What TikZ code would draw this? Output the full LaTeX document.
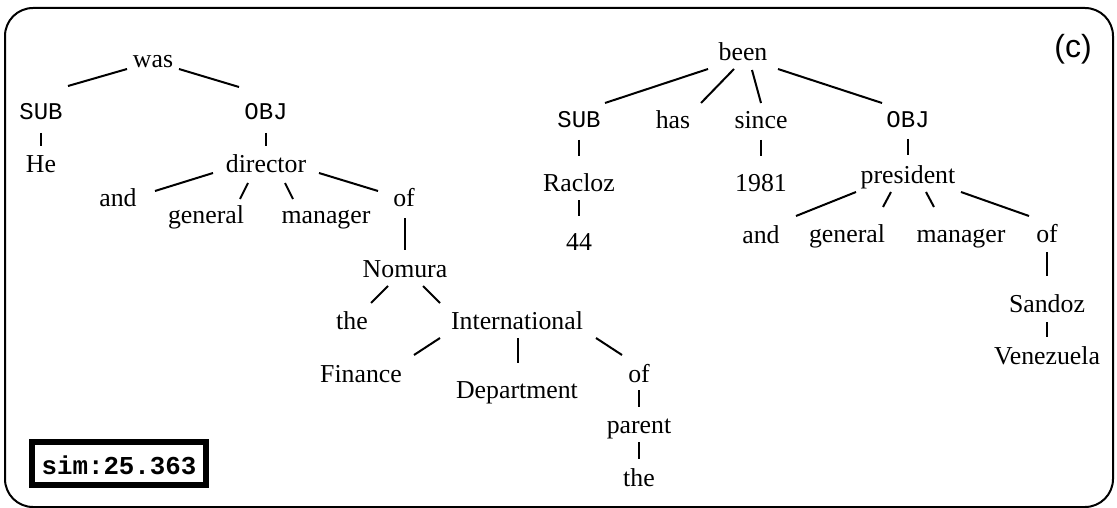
\documentclass[tikz,border=0pt]{standalone}
\usepackage{fontspec}
\setmainfont{Liberation Serif}
\setmonofont{Liberation Mono}
\newfontfamily\panelfont{Liberation Sans}
\newcommand\wordsize{\fontsize{25.8}{30}\selectfont}
\newcommand\tagsize{\fontsize{24}{28}\selectfont}
\newcommand\treelink[4]{\draw[link] ([shift={(#2)}]#1.base) -- ([shift={(#4)}]#3.base);}
\tikzset{
  word/.style={anchor=base, inner sep=0pt, font=\wordsize},
  tag/.style={anchor=base, inner sep=0pt, font=\tagsize\ttfamily},
  link/.style={line width=2pt},
  frame/.style={line width=2pt, rounded corners=28pt},
  simbox/.style={draw, line width=6pt, inner sep=0pt, minimum width=174pt,
    minimum height=43pt, text height=21pt, text depth=0pt,
    font=\wordsize\ttfamily\bfseries},
}
\begin{document}
\begin{tikzpicture}[x=1pt, y=-1pt]
\useasboundingbox (0,0) rectangle (1117,508);
\draw[frame] (5,8) rectangle (1113,507);

% left tree
\node[word] (was)   at (153,68)  {was};
\node[tag]  (subL)  at (41,120)  {SUB};
\node[tag]  (objL)  at (266,120) {OBJ};
\node[word] (he)    at (41,173)  {He};
\node[word] (dir)   at (266,173) {director};
\node[word] (andL)  at (118,207) {and};
\node[word] (genL)  at (206,223) {general};
\node[word] (manL)  at (326,223) {manager};
\node[word] (ofL)   at (404,207) {of};
\node[word] (nom)   at (405,277) {Nomura};
\node[word] (theA)  at (352,329) {the};
\node[word] (intl)  at (517,329) {International};
\node[word] (fin)   at (361,382) {Finance};
\node[word] (dept)  at (517,398) {Department};
\node[word] (ofB)   at (639,382) {of};
\node[word] (par)   at (639,433) {parent};
\node[word] (theB)  at (639,486) {the};

\treelink{was}{-26,1}{subL}{27,-34}
\treelink{was}{26,1}{objL}{-27,-33}
\treelink{subL}{0,13}{he}{0,-27}
\treelink{objL}{0,13}{dir}{0,-27}
\treelink{dir}{-53,0}{andL}{37,-16}
\treelink{dir}{-18,10}{genL}{34,-24}
\treelink{dir}{19,10}{manL}{-33,-24}
\treelink{dir}{53,0}{ofL}{-26,-16}
\treelink{ofL}{1,11}{nom}{0,-27}
\treelink{nom}{-17,9}{theA}{19,-26}
\treelink{nom}{18,9}{intl}{-77,-26}
\treelink{intl}{-77,9}{fin}{53,-27}
\treelink{intl}{1,9}{dept}{1,-35}
\treelink{intl}{79,9}{ofB}{-17,-27}
\treelink{ofB}{0,8}{par}{0,-26}
\treelink{par}{0,9}{theB}{0,-27}

% right tree
\node[word] (been)  at (743,61)   {been};
\node[tag]  (subR)  at (579,128)  {SUB};
\node[word] (has)   at (673,129)  {has};
\node[word] (since) at (761,129)  {since};
\node[tag]  (objR)  at (908,128)  {OBJ};
\node[word] (rac)   at (579,192)  {Racloz};
\node[word] (yr)    at (761,192)  {1981};
\node[word] (pres)  at (908,183)  {president};
\node[word] (age)   at (579,250)  {44};
\node[word] (andR)  at (761,243)  {and};
\node[word] (genR)  at (847,242)  {general};
\node[word] (manR)  at (961,242)  {manager};
\node[word] (ofR)   at (1047,242) {of};
\node[word] (san)   at (1047,312) {Sandoz};
\node[word] (ven)   at (1047,364) {Venezuela};

\treelink{been}{-35,8}{subR}{26,-25}
\treelink{been}{-9,8}{has}{28,-26}
\treelink{been}{9,9}{since}{0,-26}
\treelink{been}{35,8}{objR}{-26,-25}
\treelink{subR}{0,12}{rac}{0,-36}
\treelink{rac}{0,8}{age}{0,-34}
\treelink{since}{0,11}{yr}{0,-36}
\treelink{objR}{0,11}{pres}{0,-28}
\treelink{pres}{-52,9}{andR}{35,-27}
\treelink{pres}{-17,9}{genR}{36,-35}
\treelink{pres}{18,9}{manR}{-27,-35}
\treelink{pres}{53,9}{ofR}{-18,-26}
\treelink{ofR}{0,10}{san}{0,-36}
\treelink{san}{0,10}{ven}{0,-27}

% panel letter and score
\node[anchor=base, inner sep=0pt, font=\fontsize{32}{36}\selectfont\panelfont] (panel) at (1073,58) {(c)};
\node[simbox] (sim) at (119,463.5) {sim:25.363};
\end{tikzpicture}
\end{document}
